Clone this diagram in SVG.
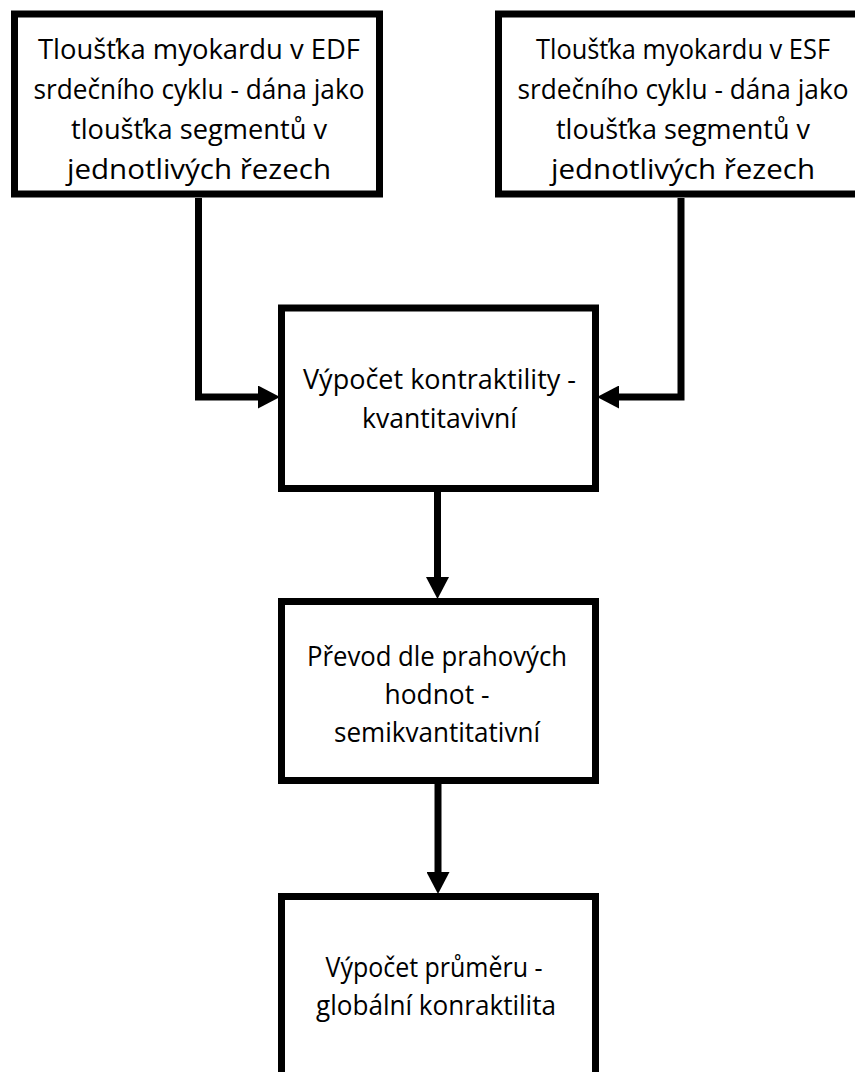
<svg xmlns="http://www.w3.org/2000/svg" width="855" height="1072" viewBox="0 0 855 1072">
<style>
.box{fill:#fff;stroke:#000;stroke-width:7}
.conn{fill:none;stroke:#000;stroke-width:7;stroke-linejoin:miter}
.t{font-family:"Open Sans","Noto Sans",sans-serif;font-size:27px;fill:#000;text-anchor:middle}
</style>
<defs>
<marker id="arr" viewBox="0 0 22 23" refX="0" refY="11.5" markerWidth="22" markerHeight="23" markerUnits="userSpaceOnUse" orient="auto">
<path d="M0,0 L22,11.5 L0,23 Z" fill="#000"/>
</marker>
</defs>
<g id="connectors">
<path class="conn" d="M198.5,198 V397 H258" marker-end="url(#arr)"/>
<path class="conn" d="M681,198 V397 H619" marker-end="url(#arr)"/>
<path class="conn" d="M437.5,492 V577" marker-end="url(#arr)"/>
<path class="conn" d="M438,784 V872" marker-end="url(#arr)"/>
</g>
<g id="node-edf">
<rect class="box" x="14.5" y="14" width="365" height="180"/>
<text class="t" x="199" y="59" textLength="322" lengthAdjust="spacingAndGlyphs">Tloušťka myokardu v EDF</text>
<text class="t" x="199" y="99" textLength="331" lengthAdjust="spacingAndGlyphs">srdečního cyklu - dána jako</text>
<text class="t" x="199" y="139" textLength="256" lengthAdjust="spacingAndGlyphs">tloušťka segmentů v</text>
<text class="t" x="199" y="179" textLength="264" lengthAdjust="spacingAndGlyphs">jednotlivých řezech</text>
</g>
<g id="node-esf">
<rect class="box" x="498.5" y="14" width="365" height="180"/>
<text class="t" x="683" y="59" textLength="294" lengthAdjust="spacingAndGlyphs">Tloušťka myokardu v ESF</text>
<text class="t" x="683" y="99" textLength="331" lengthAdjust="spacingAndGlyphs">srdečního cyklu - dána jako</text>
<text class="t" x="683" y="139" textLength="254" lengthAdjust="spacingAndGlyphs">tloušťka segmentů v</text>
<text class="t" x="683" y="179" textLength="264" lengthAdjust="spacingAndGlyphs">jednotlivých řezech</text>
</g>
<g id="node-kontraktilita">
<rect class="box" x="281.5" y="308" width="314" height="180.5"/>
<text class="t" x="439.5" y="389" textLength="273" lengthAdjust="spacingAndGlyphs">Výpočet kontraktility -</text>
<text class="t" x="439.5" y="428" textLength="155" lengthAdjust="spacingAndGlyphs">kvantitavivní</text>
</g>
<g id="node-prevod">
<rect class="box" x="281.5" y="601.5" width="314" height="179"/>
<text class="t" x="437" y="666" textLength="260" lengthAdjust="spacingAndGlyphs">Převod dle prahových</text>
<text class="t" x="437" y="704" textLength="105" lengthAdjust="spacingAndGlyphs">hodnot -</text>
<text class="t" x="437" y="742" textLength="206" lengthAdjust="spacingAndGlyphs">semikvantitativní</text>
</g>
<g id="node-prumer">
<rect class="box" x="281.5" y="896.5" width="314" height="200"/>
<text class="t" x="434" y="977" textLength="217" lengthAdjust="spacingAndGlyphs">Výpočet průměru -</text>
<text class="t" x="436" y="1015" textLength="240" lengthAdjust="spacingAndGlyphs">globální konraktilita</text>
</g>
</svg>
